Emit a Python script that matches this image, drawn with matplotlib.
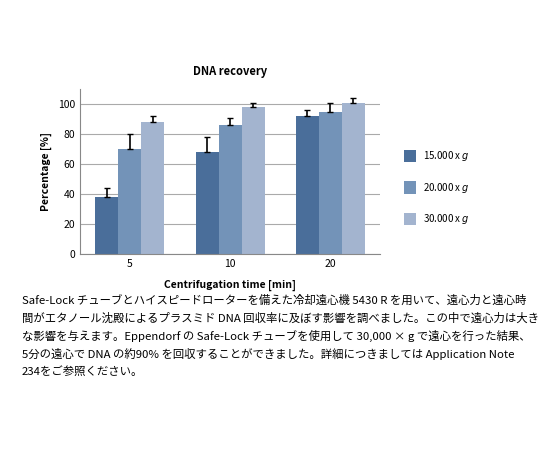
import numpy as np
import matplotlib.pyplot as plt

plt.rcParams['font.family'] = ['Noto Sans CJK JP', 'DejaVu Sans']

times = ['5', '10', '20']
series = ['15.000 x $g$', '20.000 x $g$', '30.000 x $g$']
recovery = [[38, 68, 92], [70, 86, 95], [88, 98, 101]]
errors = [[6, 10, 4], [10, 5, 6], [4, 3, 3]]
colors = ['#4a6e9a', '#7393b8', '#a3b4cf']

caption = [
    'Safe-Lock チューブとハイスピードローターを備えた冷却遠心機 5430 R を用いて、遠心力と遠心時',
    '間がエタノール沈殿によるプラスミド DNA 回収率に及ぼす影響を調べました。この中で遠心力は大き',
    'な影響を与えます。Eppendorf の Safe-Lock チューブを使用して 30,000 × g で遠心を行った結果、',
    '5分の遠心で DNA の約90% を回収することができました。詳細につきましては Application Note',
    '234をご参照ください。',
]

fig = plt.figure(figsize=(5.4, 4.5), dpi=100)
ax = fig.add_axes([0.148, 0.436, 0.556, 0.366])
x = np.arange(len(times))
w = 0.23
for i in range(3):
    ax.bar(x + (i - 1) * w, recovery[i], w, color=colors[i], label=series[i], zorder=2)
    ax.errorbar(x + (i - 1) * w, recovery[i], yerr=[[0] * 3, errors[i]], fmt='none',
                ecolor='black', elinewidth=1.2, capsize=2.5, zorder=3)
ax.set_ylim(0, 110)
ax.set_xlim(-0.5, 2.5)
ax.set_yticks(range(0, 101, 20))
ax.set_xticks(x)
ax.set_xticklabels(times)
ax.yaxis.grid(True, color='#aaaaaa', linewidth=0.8, zorder=0)
for s in ['top', 'right']:
    ax.spines[s].set_visible(False)
ax.spines['left'].set_color('#888888')
ax.spines['bottom'].set_color('#888888')
ax.tick_params(labelsize=7.5, length=0)
ax.set_ylabel('Percentage [%]', fontsize=7.5, fontweight='bold')
ax.set_xlabel('Centrifugation time [min]', fontsize=7.5, fontweight='bold', labelpad=8)
ax.set_title('DNA recovery', fontsize=8, fontweight='bold', pad=10)
ax.legend(loc='center left', bbox_to_anchor=(1.05, 0.4), frameon=False, fontsize=7,
          labelspacing=1.8, handlelength=1.2, handleheight=1.6)

for k, line in enumerate(caption):
    fig.text(0.04, 1 - (300 + k * 18) / 450, line, fontsize=8.2, va='center')

fig.savefig('out.png', facecolor='white')
